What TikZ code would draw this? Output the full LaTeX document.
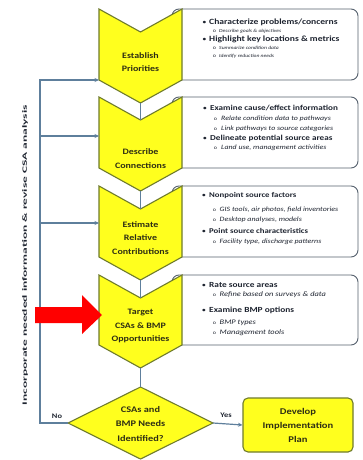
\documentclass[tikz,border=0pt]{standalone}
\usepackage{fontspec}
\setmainfont[FakeStretch=1.2]{Carlito}
\usetikzlibrary{arrows.meta}
\definecolor{chevy}{HTML}{FFFF1E}
\definecolor{chevb}{HTML}{6F7B2C}
\definecolor{conn}{HTML}{5E7F9C}
\definecolor{boxb}{HTML}{56616E}
\definecolor{txt}{HTML}{1E2430}
\definecolor{labt}{HTML}{2E2E14}
\definecolor{redar}{HTML}{FF0000}
\begin{document}
\begin{tikzpicture}[x=1pt,y=-1pt,
  chev/.style={draw=chevb,fill=chevy,line width=1.1pt,line join=miter},
  chevlab/.style={align=center,text=labt,font=\fontsize{8.3}{13.5}\selectfont\bfseries,inner sep=0},
  infobox/.style={draw=boxb,fill=white,line width=0.9pt,rounded corners=7pt},
  conline/.style={draw=conn,line width=1.2pt},
  conarrow/.style={conline,-{Stealth[length=4.5pt,width=4pt]}},
  bul/.style={anchor=mid,text=txt,font=\fontsize{7}{7}\selectfont,inner sep=0},
  mainl/.style={anchor=mid west,text=txt,font=\fontsize{#1}{8}\selectfont\bfseries,inner sep=0},
  subl/.style={anchor=mid west,text=txt,font=\fontsize{#1}{7}\selectfont\itshape,inner sep=0},
  subo/.style={anchor=mid,text=txt,font=\fontsize{5}{5}\selectfont,inner sep=0},
  sidelab/.style={text=txt,font=\fontsize{7}{7}\selectfont\bfseries,inner sep=0}]
\useasboundingbox[fill=white] (0,0) rectangle (362,460);

% info boxes
\draw[infobox] (172,9) rectangle (358,80);
\draw[infobox] (172,97) rectangle (358,168);
\draw[infobox] (172,186) rectangle (358,257);
\draw[infobox] (172,275) rectangle (358,345);

% chevrons
\draw[chev] (99,9) -- (140.5,32) -- (182,9) -- (182,80) -- (140.5,103) -- (99,80) -- cycle;
\draw[chev] (99,97) -- (140.5,120) -- (182,97) -- (182,168) -- (140.5,191) -- (99,168) -- cycle;
\draw[chev] (99,186) -- (140.5,209) -- (182,186) -- (182,257) -- (140.5,280) -- (99,257) -- cycle;
\draw[chev] (99,275) -- (140.5,298) -- (182,275) -- (182,345) -- (140.5,368) -- (99,345) -- cycle;
\coordinate (n1) at (140.5,32);  \coordinate (t1) at (140.5,103);
\coordinate (n2) at (140.5,120); \coordinate (t2) at (140.5,191);
\coordinate (n3) at (140.5,209); \coordinate (t3) at (140.5,280);
\coordinate (n4) at (140.5,298); \coordinate (t4) at (140.5,368);
\coordinate (w1) at (99,80);
\coordinate (w2) at (99,136);
\coordinate (w3) at (99,223);

\node[chevlab] (l1) at (140.5,62) {Establish\\Priorities};
\node[chevlab] (l2) at (140.5,158.5) {Describe\\Connections};
\node[chevlab] (l3) at (140.5,238) {Estimate\\Relative\\Contributions};
\node[chevlab] (l4) at (140.5,326) {Target\\CSAs \& BMP\\Opportunities};

% diamond
\draw[chev] (140.5,387) -- (213,423) -- (140.5,459) -- (68,423) -- cycle;
\coordinate (dtop) at (140.5,387);
\coordinate (dleft) at (68,423);
\coordinate (dright) at (213,423);
\node[chevlab,font=\fontsize{8.6}{14.5}\selectfont\bfseries] (dlab) at (140.5,424) {CSAs and\\BMP Needs\\Identified?};

% implementation box
\node[draw=chevb,fill=chevy,line width=1.1pt,rounded corners=5pt,minimum width=110pt,minimum height=54pt,align=center,text=labt,font=\fontsize{8.8}{14}\selectfont\bfseries,inner sep=0] (impl) at (298,425) {Develop\\Implementation\\Plan};

% connectors between chevrons
\draw[conline] (t1) -- (n2);
\draw[conline] (t2) -- (n3);
\draw[conline] (t3) -- (n4);
\draw[conline] (t4) -- (dtop);

% loop
\coordinate (lb) at (40,423);
\coordinate (lt) at (40,80);
\coordinate (l2s) at (40,136);
\coordinate (l3s) at (40,223);
\draw[conarrow] (dleft) -- (lb) -- (lt) -- (w1);
\draw[conarrow] (l2s) -- (w2);
\draw[conarrow] (l3s) -- (w3);
\draw[conarrow] (dright) -- (impl.west);
\node[sidelab] (no) at (57,416) {No};
\node[sidelab] (yes) at (226,415) {Yes};

\node[rotate=90,inner sep=0,text=txt] (side) at (25,255) {\resizebox{300pt}{4.6pt}{\bfseries Incorporate needed information \& revise CSA analysis}};

% red arrow
\fill[redar] (35,307) -- (82,307) -- (82,295) -- (102,315) -- (82,334) -- (82,323) -- (35,323) -- cycle;

% box 1 text
\node[bul] (b11) at (204.5,22) {\textbullet};
\node[mainl=8.0] (m11) at (209,22) {Characterize problems/concerns};
\node[subo] (o11) at (214.5,29.8) {o};
\node[subl=4.7] (s11) at (219,29.8) {Describe goals \& objectives};
\node[bul] (b12) at (204.5,39) {\textbullet};
\node[mainl=8.0] (m12) at (209,39) {Highlight key locations \& metrics};
\node[subo] (o12) at (214.5,47.5) {o};
\node[subl=4.7] (s12) at (219,47.5) {Summarize condition data};
\node[subo] (o13) at (214.5,55) {o};
\node[subl=4.7] (s13) at (219,55) {Identify reduction needs};

% box 2 text
\node[bul] (b21) at (205,108.3) {\textbullet};
\node[mainl=7.6] (m21) at (210,108.3) {Examine cause/effect information};
\node[subo] (o21) at (215.5,118.3) {o};
\node[subl=6.6] (s21) at (221,118.3) {Relate condition data to pathways};
\node[subo] (o22) at (215.5,127.7) {o};
\node[subl=6.6] (s22) at (221,127.7) {Link pathways to source categories};
\node[bul] (b22) at (205,137.7) {\textbullet};
\node[mainl=7.6] (m22) at (210,137.7) {Delineate potential source areas};
\node[subo] (o23) at (215.5,147.3) {o};
\node[subl=6.6] (s23) at (221,147.3) {Land use, management activities};

% box 3 text
\node[bul] (b31) at (204,195) {\textbullet};
\node[mainl=7.3] (m31) at (209,195) {Nonpoint source factors};
\node[subo] (o31) at (214.5,209.3) {o};
\node[subl=6.6] (s31) at (219.5,209.3) {GIS tools, air photos, field inventories};
\node[subo] (o32) at (214.5,219.3) {o};
\node[subl=6.6] (s32) at (219.5,219.3) {Desktop analyses, models};
\node[bul] (b32) at (204,231) {\textbullet};
\node[mainl=7.3] (m32) at (209,231) {Point source characteristics};
\node[subo] (o33) at (214.5,241) {o};
\node[subl=6.6] (s33) at (219.5,241) {Facility type, discharge patterns};

% box 4 text
\node[bul] (b41) at (204,285) {\textbullet};
\node[mainl=7.8] (m41) at (209,285) {Rate source areas};
\node[subo] (o41) at (214.5,294) {o};
\node[subl=7.0] (s41) at (219.5,294) {Refine based on surveys \& data};
\node[bul] (b42) at (204,310) {\textbullet};
\node[mainl=7.8] (m42) at (209,310) {Examine BMP options};
\node[subo] (o42) at (214.5,321.7) {o};
\node[subl=7.0] (s42) at (219.5,321.7) {BMP types};
\node[subo] (o43) at (214.5,331.7) {o};
\node[subl=7.0] (s43) at (219.5,331.7) {Management tools};
\end{tikzpicture}
\end{document}
